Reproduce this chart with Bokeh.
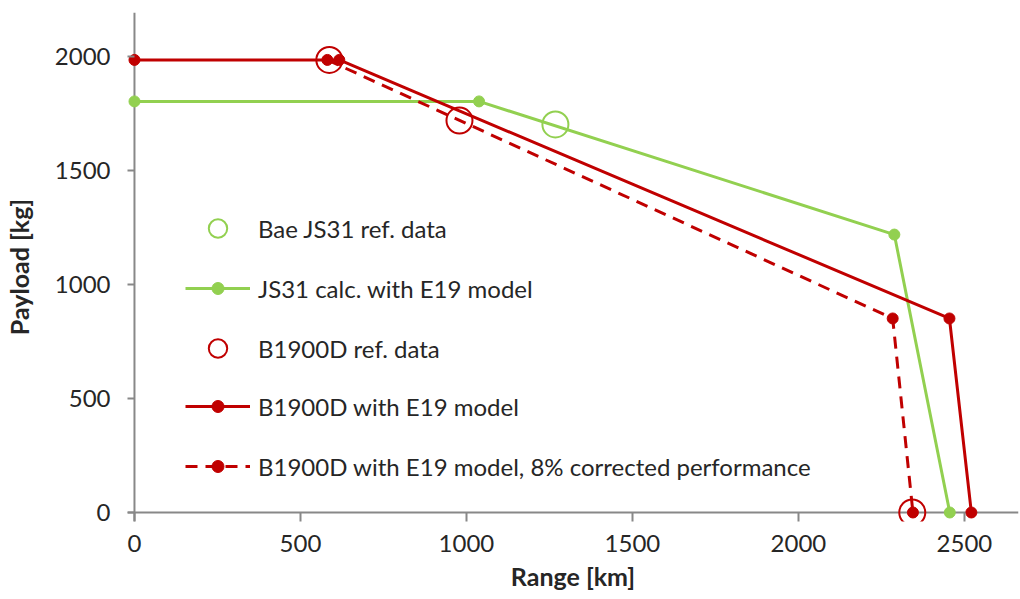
from bokeh.plotting import figure
from bokeh.models import Legend, LegendItem, FixedTicker, Range1d, Span
from bokeh.embed import file_html
from bokeh.resources import INLINE

# JS31 calculated with E19 model
js31_x = [0, 1038, 2289, 2456]
js31_y = [1803, 1803, 1219, 0]
# JS31 reference data
js31_ref_x = [1268]
js31_ref_y = [1702]
# B1900D with E19 model
b19_x = [0, 617, 2455, 2521]
b19_y = [1985, 1985, 851, 0]
# B1900D with E19 model, 8% corrected performance
b19c_x = [581, 2284, 2345]
b19c_y = [1985, 851, 0]
# B1900D reference data
b19_ref_x = [587, 979, 2343]
b19_ref_y = [1985, 1719, 0]

x_ticks = [0, 500, 1000, 1500, 2000, 2500]
y_ticks = [0, 500, 1000, 1500, 2000]

legend_labels = [
    "Bae JS31 ref. data",
    "JS31 calc. with E19 model",
    "B1900D ref. data",
    "B1900D with E19 model",
    "B1900D with E19 model, 8% corrected performance",
]

RED = "#C00000"
GREEN = "#92D050"
AXIS = "#888888"
FONT = "Lato"
TXT = "#262626"

p = figure(width=1020, height=599, output_backend="svg", toolbar_location=None,
           x_range=Range1d(-21, 2663), y_range=Range1d(-39.5, 2193),
           min_border_left=127, min_border_right=2, min_border_top=12, min_border_bottom=78)
p.outline_line_color = None
p.xgrid.visible = False
p.ygrid.visible = False

for ax in (p.xaxis[0], p.yaxis[0]):
    ax.axis_line_color = None
    ax.major_tick_line_color = AXIS
    ax.major_tick_line_width = 2
    ax.major_tick_out = 0
    ax.minor_tick_line_color = None
    ax.major_label_text_font = FONT
    ax.major_label_text_font_size = "24px"
    ax.major_label_text_color = TXT
    ax.axis_label_text_font = FONT
    ax.axis_label_text_font_size = "25px"
    ax.axis_label_text_font_style = "bold"
    ax.axis_label_text_color = TXT

p.xaxis.major_tick_in = 9
p.yaxis.major_tick_in = 7
p.xaxis.ticker = FixedTicker(ticks=x_ticks)
p.yaxis.ticker = FixedTicker(ticks=y_ticks)
p.xaxis.axis_label = "Range [km]"
p.yaxis.axis_label = "Payload [kg]"
p.xaxis.major_label_standoff = 13
p.yaxis.major_label_standoff = 17
p.xaxis.axis_label_standoff = 6
p.yaxis.axis_label_standoff = 18

# axis lines through the origin
p.add_layout(Span(location=0, dimension="height", line_color=AXIS, line_width=2, level="underlay"))
p.add_layout(Span(location=0, dimension="width", line_color=AXIS, line_width=2, level="underlay"))

js_ref = p.scatter(js31_ref_x, js31_ref_y, marker="circle", size=26, fill_color=None,
                   line_color=GREEN, line_width=2)
js_line = p.line(js31_x, js31_y, line_color=GREEN, line_width=3)
js_pts = p.scatter(js31_x, js31_y, marker="circle", size=11, fill_color=GREEN, line_color=GREEN)

b_ref = p.scatter(b19_ref_x, b19_ref_y, marker="circle", size=26, fill_color=None,
                  line_color=RED, line_width=2)
b_line = p.line(b19_x, b19_y, line_color=RED, line_width=3)
b_pts = p.scatter(b19_x, b19_y, marker="circle", size=11, fill_color=RED, line_color=RED)

bc_line = p.line(b19c_x, b19c_y, line_color=RED, line_width=3, line_dash="12 8")
bc_pts = p.scatter(b19c_x, b19c_y, marker="circle", size=11, fill_color=RED, line_color=RED)

entry_renderers = [[js_ref], [js_line, js_pts], [b_ref], [b_line, b_pts], [bc_line, bc_pts]]
entry_heights = [46, 30, 46, 30, 30]
entry_offsets = [270, 218, 150, 100, 40]

for label, rends, h, off in zip(legend_labels, entry_renderers, entry_heights, entry_offsets):
    lg = Legend(items=[LegendItem(label=label, renderers=rends)], location=(58, off))
    lg.glyph_width = 65
    lg.glyph_height = h
    lg.label_height = h
    lg.padding = 0
    lg.margin = 0
    lg.label_standoff = 8
    lg.border_line_color = None
    lg.background_fill_alpha = 0
    lg.label_text_font = FONT
    lg.label_text_font_size = "24px"
    lg.label_text_color = TXT
    p.add_layout(lg, "center")

open("out.html", "w").write(file_html(p, INLINE))
